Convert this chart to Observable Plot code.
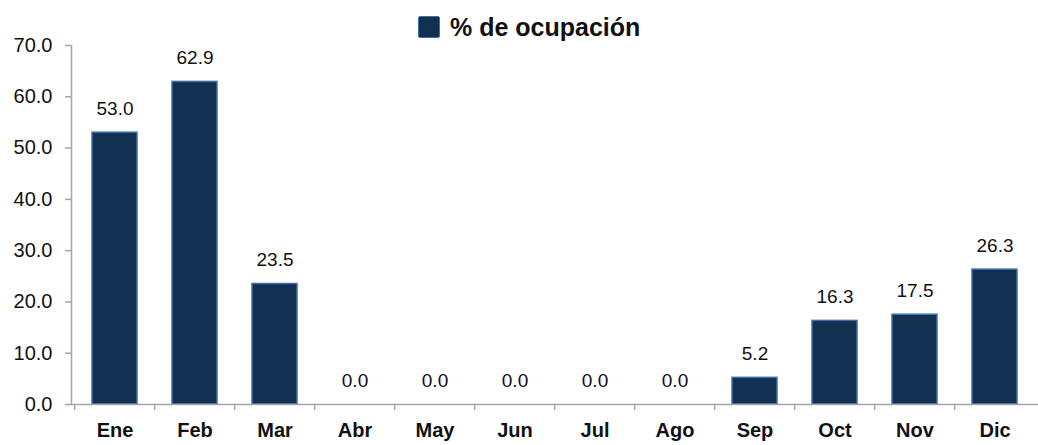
<!DOCTYPE html>
<html>
<head>
<meta charset="utf-8">
<script src="https://cdn.jsdelivr.net/npm/d3@7"></script>
<script src="https://cdn.jsdelivr.net/npm/@observablehq/plot@0.6"></script>
<style>
  html, body { margin: 0; padding: 0; background: #fff; }
  body { width: 1038px; height: 445px; overflow: hidden; font-family: "Liberation Sans", Arial, sans-serif; }
  #legend { height: 30px; position: relative; z-index: 2; }
  #legend .sw { position: absolute; left: 418px; top: 16px; width: 20px; height: 20px; background: #12304f; border: 1.5px solid #3f6fa6; border-radius: 2px; }
  #legend .lb { position: absolute; left: 450px; top: 13px; font-weight: bold; font-size: 25px; color: #111; line-height: 28px; white-space: nowrap; }
  #chart { position: relative; z-index: 1; }
</style>
</head>
<body>
<div id="legend"><div class="sw"></div><div class="lb">% de ocupación</div></div>
<div id="chart"></div>
<script>
const months = ["Ene","Feb","Mar","Abr","May","Jun","Jul","Ago","Sep","Oct","Nov","Dic"];
const ocupacion = [53.0, 62.9, 23.5, 0.0, 0.0, 0.0, 0.0, 0.0, 5.2, 16.3, 17.5, 26.3];
const yTicks = [0, 10, 20, 30, 40, 50, 60, 70];

const data = months.map((m, i) => ({month: m, value: ocupacion[i]}));

const W = 1038, H = 415, mL = 71, mR = 0, mT = 15, mB = 41;
const step = (W - mL - mR) / months.length;

const chart = Plot.plot({
  width: W,
  height: H,
  marginLeft: mL,
  marginRight: mR,
  marginTop: mT,
  marginBottom: mB,
  style: {fontFamily: '"Liberation Sans", Arial, sans-serif', color: "#111", background: "transparent", overflow: "visible"},
  x: {domain: months, paddingInner: 0.44, paddingOuter: 0.22, align: 0.5, label: null},
  y: {domain: [0, 70], label: null},
  marks: [
    Plot.barY(data, {x: "month", y: "value", fill: "#12304f", stroke: "#3f6fa6", strokeWidth: 1.5}),
    Plot.text(data, {x: "month", y: "value", text: d => d.value.toFixed(1), dy: -24, fontSize: 19, fill: "#111"}),
    // baseline
    Plot.ruleY([0], {stroke: "#a6a6a6", strokeWidth: 1.5}),
    // left axis line
    Plot.frame({anchor: "left", stroke: "#a6a6a6", strokeWidth: 1.5}),
    // category separator ticks
    Plot.ruleX(months, {x: d => d, y1: 0, y2: 0, dx: -step / 2, insetBottom: -6, stroke: "#a6a6a6", strokeWidth: 1.5}),
    Plot.axisX({tickSize: 0, tickPadding: 18, fontSize: 20, fontWeight: "bold", fill: "#111"}),
    Plot.axisY({ticks: yTicks, tickFormat: d => d.toFixed(1), tickSize: 6, tickPadding: 13, fontSize: 20, stroke: "#a6a6a6", strokeWidth: 1.5, fill: "#111"})
  ]
});
document.getElementById("chart").appendChild(chart);
</script>
</body>
</html>
